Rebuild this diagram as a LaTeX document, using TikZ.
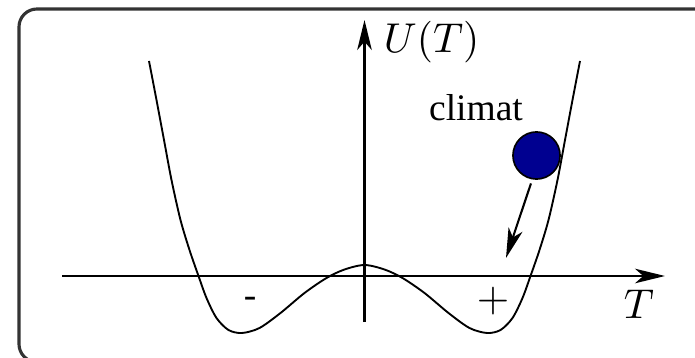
\documentclass[tikz,border=0pt]{standalone}
\usepackage{fontspec}
\newfontfamily\figfont{Liberation Serif}
\usetikzlibrary{arrows.meta}
\definecolor{ballblue}{HTML}{000090}
\definecolor{framegray}{HTML}{333333}
\tikzset{
  axis/.style={-{Stealth[length=7.2pt,width=3.5pt,inset=2pt]},line width=0.5pt},
  potential/.style={line width=0.45pt},
  ball/.style={circle,draw,fill=ballblue,minimum size=11.3pt,inner sep=0pt,line width=0.4pt},
  fall/.style={-{Stealth[length=7.2pt,width=3.5pt,inset=2pt]},line width=0.5pt,shorten <=1pt},
  txtlabel/.style={font=\figfont\fontsize{9}{10.8}\selectfont,inner sep=0pt},
  mathlabel/.style={inner sep=0pt}
}

\begin{document}
\begin{tikzpicture}[x=0.24pt,y=-0.24pt]
\useasboundingbox (0,0) rectangle (695,358);
\clip (0,0) rectangle (695,358);
% frame
\draw[framegray,line width=0.75pt,rounded corners=4.3pt] (19,9) rectangle (712,362);
% axes
\coordinate (xl) at (62,276);
\coordinate (xr) at (665,276);
\coordinate (yb) at (364.5,322);
\coordinate (yt) at (364.5,20);
\draw[axis] (xl) -- (xr);
\draw[axis] (yb) -- (yt);
\node[mathlabel,anchor=base west] (ulab) at (383,53) {$U(T)$};
\node[mathlabel,anchor=base] (tlab) at (639,318) {$T$};
% double well
\draw[potential] plot[smooth] coordinates {(149,61) (156.5,100) (164,140) (171.5,180) (180.5,220) (189.5,250) (198.5,276) (206.5,298) (216.5,318) (228.5,330) (242,333) (259.5,328) (280.5,313) (304.5,293) (326.5,278) (344.5,269.5) (364.5,265) (384.5,269.5) (402.5,278) (424.5,293) (448.5,313) (469.5,328) (487,333) (500.5,330) (512.5,318) (522.5,298) (530.5,276) (539.5,250) (548.5,220) (557.5,180) (565,140) (572.5,100) (580,61)};
\node[txtlabel] (minus) at (250,302) {-};
\node[mathlabel] (plus) at (493,301) {$+$};
% climate state
\node[txtlabel,anchor=base] (clab) at (476,121) {climat};
\node[ball] (ball) at (536.5,155.5) {};
\coordinate (dest) at (506,258);
\draw[fall] (ball.-100) -- (dest);
\end{tikzpicture}
\end{document}
